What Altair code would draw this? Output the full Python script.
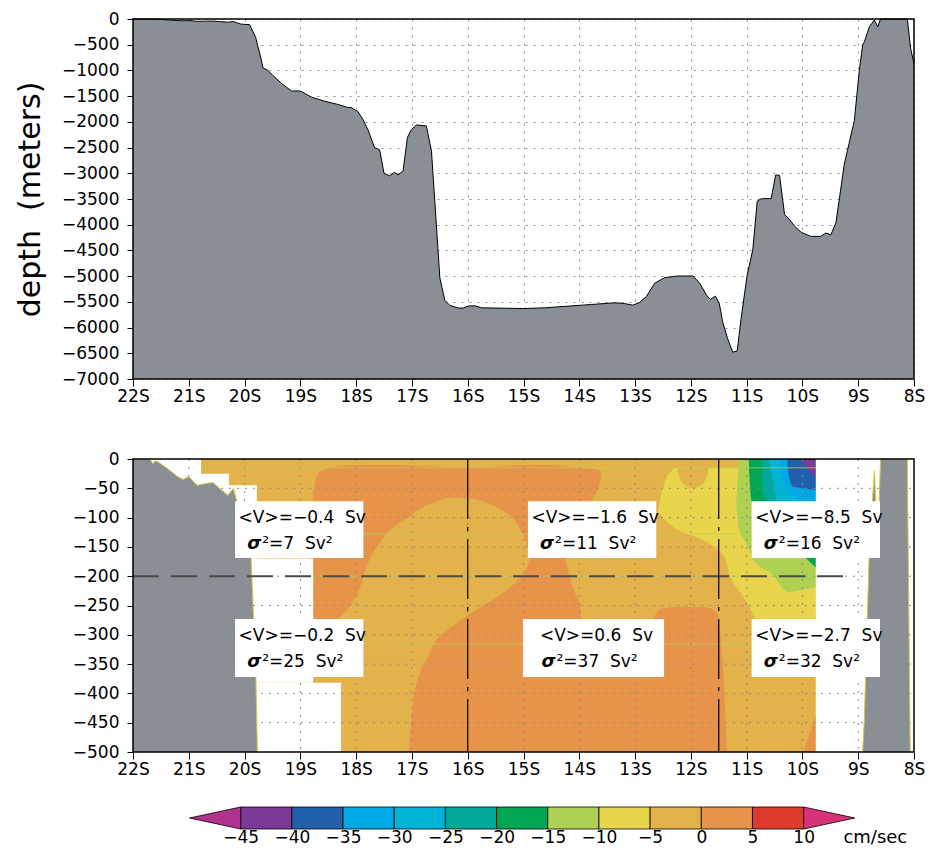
import altair as alt
import pandas as pd

# ---------------- bathymetry along the section (lat: south negative, depth in m) ----------------
BATHY_LAT = [-22.0, -21.7, -21.64, -21.6, -21.55, -21.4, -21.2, -21.1, -21.0, -20.85, -20.7, -20.57,
             -20.45, -20.3, -20.2, -20.15, -20.06, -19.91, -19.85, -19.80, -19.77, -19.72, -19.67,
             -19.58, -19.49, -19.34, -19.16, -19.0, -18.80, -18.56, -18.33, -18.15, -18.09, -17.97,
             -17.88, -17.79, -17.67, -17.58, -17.50, -17.40, -17.31, -17.25, -17.16, -17.08, -17.01,
             -16.92, -16.74, -16.65, -16.59, -16.50, -16.41, -16.32, -16.17, -16.08, -15.99, -15.87,
             -15.75, -15.0, -14.62, -13.78, -13.36, -13.19, -13.04, -12.92, -12.80, -12.65, -12.47,
             -12.23, -11.96, -11.84, -11.72, -11.65, -11.56, -11.49, -11.43, -11.34, -11.25, -11.17,
             -11.10, -10.99, -10.89, -10.81, -10.74, -10.56, -10.48, -10.41, -10.32, -10.23, -10.14,
             -10.02, -9.85, -9.67, -9.58, -9.49, -9.40, -9.25, -9.07, -8.98, -8.92, -8.89, -8.80,
             -8.71, -8.65, -8.60, -8.12, -8.06, -8.0]
BATHY_DEPTH = [0, 0, -8, -3, -5, -15, -30, -35, -30, -45, -42, -40,
               -50, -62, -50, -68, -100, -110, -245, -360, -500, -700, -950,
               -1000, -1100, -1250, -1400, -1400, -1520, -1600, -1660, -1720, -1720, -1800,
               -1950, -2150, -2500, -2540, -3000, -3050, -2980, -3030, -2960, -2300, -2150,
               -2060, -2080, -2570, -3540, -5030, -5470, -5570, -5620, -5620, -5580, -5577,
               -5616, -5630, -5616, -5551, -5518, -5532, -5564, -5512, -5401, -5140, -5029,
               -4997, -4997, -5140, -5368, -5453, -5388, -5532, -5890, -6217, -6477, -6458,
               -5825, -4977, -4488, -3542, -3496, -3490, -3033, -3040, -3803, -3901, -4031,
               -4149, -4227, -4227, -4162, -4194, -3966, -2825, -1977, -998, -500, -444, -150,
               -20, -150, 0, 0, -574, -868]

LAT_TICKS = list(range(-22, -7))
TOP_DEPTH_TICKS = list(range(-7000, 1, 500))
BOT_DEPTH_TICKS = list(range(-500, 1, 50))
TOP_DOMAIN = [-7000, 0]
BOT_DOMAIN = [-500, 0]
LAT_DOMAIN = [-22, -8]

# ---------------- velocity section: filled contour bands (cm/s), boundaries ----------------
FIELD_LAT = [-20.78, -9.76]          # gridded section extent
FIELD_DEPTH = [0, -500]
# regions without data (lat0, lat1, top, bottom)
NODATA_LAT0 = [-22, -22, -22, -22, -22, -9.76]
NODATA_LAT1 = [-20.78, -20.28, -19.78, -18.77, -18.27, -8]
NODATA_TOP = [0, -25, -45, -170, -382, 0]
NODATA_BOT = [-25, -45, -170, -382, -500, -500]

# v >= 0 (0..5 band)
OR_LAT = [-18.77, -18.68, -18.41, -17.80, -16.62, -16.01, -15.42, -14.83, -14.22, -13.63, -13.56, -11.35]
OR_TOP = [-60, -24, -14, -10, -13, -15, -13, -10, -13, -19, -27, -27]
OR_BOT = [-500, -500, -500, -500, -500, -500, -500, -500, -500, -500, -500, -500]
# -5..0 tongue running from the dome to the bottom-left
DOME_LAT = [-18.77, -18.29, -18.11, -17.93, -17.80, -17.57, -17.21, -17.07, -16.98, -16.85, -16.72,
            -16.62, -16.32, -15.90, -15.72, -15.42, -15.19, -15.06, -14.94, -14.88]
DOME_TOP = [-309, -271, -250, -220, -181, -142, -108, -100, -92, -85, -78,
            -75, -66, -68, -73, -85, -101, -120, -145, -169]
DOME_BOT = [-500, -500, -500, -500, -500, -500, -500, -500, -415, -363, -340,
            -318, -289, -261, -250, -232, -215, -203, -185, -169]
# -5..0 region in the east
TONGUE_LAT = [-14.25, -14.16, -14.08, -13.99, -13.95, -13.75, -13.63, -13.56, -13.27, -12.82, -12.55,
              -12.19, -11.74, -11.53, -11.48, -11.44, -11.40, -11.35, -9.76]
TONGUE_TOP = [-167, -155, -140, -125, -118, -67, -40, 0, 0, 0, 0, 0, 0, 0, 0, 0, 0, 0, 0]
TONGUE_BOT = [-171, -205, -228, -250, -272, -288, -296, -300, -303, -295, -256,
              -252, -253, -262, -288, -334, -400, -500, -500]
# small v >= 0 patch at the eastern bottom
OR2_LAT = [-9.99, -9.87, -9.76]
OR2_TOP = [-500, -470, -437]
OR2_BOT = [-500, -500, -500]
# v <= -5
YE_LAT = [-12.59, -12.55, -12.50, -12.43, -12.34, -12.29, -12.14, -11.71, -11.39, -11.30, -11.08,
          -10.94, -10.85, -10.40, -9.76]
YE_TOP = [-90, -68, -51, -30, -20, -15, -15, -15, -15, -15, -15, -15, -15, -15, -15]
YE_BOT = [-90, -95, -101, -108, -114, -118, -125, -142, -169, -198, -232, -254, -271, -285, -300]
# -5..0 bump inside the v <= -5 band
BUMP_LAT = [-12.23, -12.14, -11.96, -11.78, -11.69]
BUMP_TOP = [-15, -15, -15, -15, -15]
BUMP_BOT = [-22, -42, -50, -42, -22]
# v <= -10
LG_LAT = [-11.19, -11.17, -11.12, -11.06, -10.94, -10.91, -10.53, -10.26, -10.04, -9.76]
LG_TOP = [-73, -50, 0, 0, 0, 0, 0, 0, 0, 0]
LG_BOT = [-73, -95, -125, -136, -159, -169, -198, -227, -224, -218]
# v <= -15
GR_LAT = [-10.96, -10.93, -10.90, -10.76, -10.40, -9.95, -9.76]
GR_TOP = [0, 0, 0, 0, 0, 0, 0]
GR_BOT = [-10, -60, -75, -88, -125, -168, -185]
# v <= -20
TE_LAT = [-10.73, -10.71, -10.58, -10.22, -9.76]
TE_TOP = [0, 0, 0, 0, 0]
TE_BOT = [-10, -60, -75, -110, -150]
# v <= -25
CY_LAT = [-10.59, -10.53, -10.44, -10.04, -9.76]
CY_TOP = [0, 0, 0, 0, 0]
CY_BOT = [-5, -35, -75, -95, -115]
# v <= -30
LB_LAT = [-10.43, -10.37, -10.28, -10.04, -9.76]
LB_TOP = [0, 0, 0, 0, 0]
LB_BOT = [-5, -27, -48, -70, -80]
# v <= -35
BL_LAT = [-10.27, -10.24, -10.17, -9.99, -9.76]
BL_TOP = [0, 0, 0, 0, 0]
BL_BOT = [-8, -30, -47, -50, -53]
# v <= -40
PU_LAT = [-10.01, -9.95, -9.86, -9.76]
PU_TOP = [0, 0, 0, 0]
PU_BOT = [-3, -12, -22, -30]

# faint seams of the contouring at these depths
SEAM_DEPTH = [-15, -128, -200, -316]

# reference lines
HLINE_DEPTH = [-200]
HLINE_LAT = [-22, -9.14]
VLINE_LAT = [-16, -11.5]

# transport annotations
BOX_LAT0 = [-20.17, -20.17, -14.92, -15.01, -10.91, -10.91]
BOX_LAT1 = [-17.87, -17.87, -12.62, -12.48, -8.61, -8.61]
BOX_TOP = [-72, -273, -72, -273, -72, -273]
BOX_BOT = [-169, -372, -169, -372, -169, -372]
MEAN_V = ["\u22120.4", "\u22120.2", "\u22121.6", "0.6", "\u22128.5", "\u22122.7"]
VAR_V = ["7", "25", "11", "37", "16", "32"]

# colour bar
CB_LOW = [-45, -40, -35, -30, -25, -20, -15, -10, -5, 0, 5]
CB_COLORS = ["#7b3a96", "#2360ac", "#00a8e6", "#00b4d8", "#00a99a", "#00a651",
             "#afd152", "#e8d54c", "#e3b24a", "#e8934a", "#e03a2b"]
CB_TICKS = [-45, -40, -35, -30, -25, -20, -15, -10, -5, 0, 5, 10]
CB_UNITS = "cm/sec"

# ---------------- styles ----------------
FONT = "DejaVu Sans"
SP2 = "\u00a0 "     # a visible double space
LAND = "#898f95"
C_LO, C_OR, C_YE, C_LG = "#e3b24a", "#e8934a", "#e8d54c", "#afd152"
C_GR, C_TE, C_CY, C_LB, C_BL, C_PU = "#00a651", "#00a99a", "#00b4d8", "#00a8e6", "#2360ac", "#7b3a96"
TRI_L, TRI_R = "#b0338f", "#d6337b"
W = 781

XS = alt.Scale(domain=LAT_DOMAIN, nice=False, zero=False)
lat_label = "abs(datum.value) + 'S'"


def xaxis(grid):
    return alt.Axis(values=LAT_TICKS, labelExpr=lat_label, title=None, grid=grid,
                    gridDash=[2, 6], gridColor="#8a8a8a", gridWidth=1, labelFlush=False,
                    tickSize=7, labelPadding=2, domain=False, labelFontSize=17)


# ---------------- top panel ----------------
TYS = alt.Scale(domain=TOP_DOMAIN, nice=False, zero=False)
TOP_X = xaxis(True)
TOP_Y = alt.Axis(values=TOP_DEPTH_TICKS, format="d", title="depth" + SP2 + "(meters)", titleFontSize=30,
                 titleFontWeight="normal", titlePadding=16, grid=True, gridDash=[2, 6],
                 gridColor="#8a8a8a", gridWidth=1, tickSize=6, labelPadding=8, domain=False,
                 labelFontSize=17, labelFlush=False)

bathy = pd.DataFrame({"lat": BATHY_LAT, "depth": BATHY_DEPTH})
bathy["floor"] = TOP_DOMAIN[0]

tx = alt.X("lat:Q", scale=XS, axis=TOP_X)
top_area = alt.Chart(bathy).mark_area(color=LAND).encode(
    x=tx, y=alt.Y("depth:Q", scale=TYS, axis=TOP_Y), y2="floor:Q")
top_line = alt.Chart(bathy).mark_line(color="black", strokeWidth=1).encode(
    x=tx, y=alt.Y("depth:Q", scale=TYS, axis=TOP_Y))
frame_top = alt.Chart(pd.DataFrame({"x0": [LAT_DOMAIN[0]], "x1": [LAT_DOMAIN[1]],
                                     "y0": [TOP_DOMAIN[0]], "y1": [TOP_DOMAIN[1]]})).mark_rect(
    fill="transparent", stroke="black", strokeWidth=1.5).encode(
    x=alt.X("x0:Q", scale=XS, axis=TOP_X), x2="x1:Q",
    y=alt.Y("y0:Q", scale=TYS, axis=TOP_Y), y2="y1:Q")
top = alt.layer(top_area, top_line, frame_top).properties(width=W, height=360)

# ---------------- bottom panel ----------------
BYS = alt.Scale(domain=BOT_DOMAIN, nice=False, zero=False)
BOT_X = xaxis(False)
BOT_Y = alt.Axis(values=BOT_DEPTH_TICKS, format="d", title=None, grid=False, tickSize=6,
                 labelPadding=8, domain=False, labelFontSize=17, labelFlush=False)


def bx(f):
    return alt.X(f + ":Q", scale=XS, axis=BOT_X)


def by(f):
    return alt.Y(f + ":Q", scale=BYS, axis=BOT_Y)


def band(lats, tops, bots, color):
    df = pd.DataFrame({"lat": lats, "top": tops, "bot": bots})
    return alt.Chart(df).mark_area(color=color, interpolate="monotone").encode(
        x=bx("lat"), y=by("top"), y2="bot:Q")


def rects(lat0, lat1, top, bot, **mk):
    df = pd.DataFrame({"a": lat0, "b": lat1, "t": top, "u": bot})
    return alt.Chart(df).mark_rect(**mk).encode(x=bx("a"), x2="b:Q", y=by("t"), y2="u:Q")


layers = []
layers.append(rects([FIELD_LAT[0]], [FIELD_LAT[1]], [FIELD_DEPTH[0]], [FIELD_DEPTH[1]], color=C_LO))
layers.append(band(OR_LAT, OR_TOP, OR_BOT, C_OR))
layers.append(band(DOME_LAT, DOME_TOP, DOME_BOT, C_LO))
layers.append(band(TONGUE_LAT, TONGUE_TOP, TONGUE_BOT, C_LO))
layers.append(band(OR2_LAT, OR2_TOP, OR2_BOT, C_OR))
layers.append(band(YE_LAT, YE_TOP, YE_BOT, C_YE))
layers.append(band(BUMP_LAT, BUMP_TOP, BUMP_BOT, C_LO))
layers.append(band(LG_LAT, LG_TOP, LG_BOT, C_LG))
layers.append(band(GR_LAT, GR_TOP, GR_BOT, C_GR))
layers.append(band(TE_LAT, TE_TOP, TE_BOT, C_TE))
layers.append(band(CY_LAT, CY_TOP, CY_BOT, C_CY))
layers.append(band(LB_LAT, LB_TOP, LB_BOT, C_LB))
layers.append(band(BL_LAT, BL_TOP, BL_BOT, C_BL))
layers.append(band(PU_LAT, PU_TOP, PU_BOT, C_PU))

seams = pd.DataFrame({"d": SEAM_DEPTH, "a": FIELD_LAT[0], "b": FIELD_LAT[1]})
layers.append(alt.Chart(seams).mark_rule(color="#b9d35c", strokeWidth=1, opacity=0.7).encode(
    x=bx("a"), x2="b:Q", y=by("d")))

layers.append(rects(NODATA_LAT0, NODATA_LAT1, NODATA_TOP, NODATA_BOT, color="white"))

# dotted grid on top of the field
vgrid = pd.DataFrame({"lat": LAT_TICKS[1:-1], "t": BOT_DOMAIN[1], "u": BOT_DOMAIN[0]})
hgrid = pd.DataFrame({"d": BOT_DEPTH_TICKS[1:-1], "a": LAT_DOMAIN[0], "b": LAT_DOMAIN[1]})
layers.append(alt.Chart(vgrid).mark_rule(color="#8a8a8a", strokeDash=[2, 6], strokeWidth=1).encode(
    x=bx("lat"), y=by("t"), y2="u:Q"))
layers.append(alt.Chart(hgrid).mark_rule(color="#8a8a8a", strokeDash=[2, 6], strokeWidth=1).encode(
    x=bx("a"), x2="b:Q", y=by("d")))

# land
bathy_b = pd.DataFrame({"lat": BATHY_LAT, "depth": BATHY_DEPTH})
bathy_b["floor"] = TOP_DOMAIN[0]
layers.append(alt.Chart(bathy_b).mark_area(color=LAND, clip=True).encode(
    x=bx("lat"), y=by("depth"), y2="floor:Q"))
layers.append(alt.Chart(bathy_b).mark_line(color="#d8c83a", strokeWidth=1, clip=True).encode(
    x=bx("lat"), y=by("depth")))

# dashed reference lines
hl = pd.DataFrame({"d": HLINE_DEPTH, "a": HLINE_LAT[0], "b": HLINE_LAT[1]})
layers.append(alt.Chart(hl).mark_rule(color="#4a4a4a", strokeDash=[26, 12], strokeWidth=2).encode(
    x=bx("a"), x2="b:Q", y=by("d")))
vl = pd.DataFrame({"lat": VLINE_LAT, "t": BOT_DOMAIN[1], "u": BOT_DOMAIN[0]})
layers.append(alt.Chart(vl).mark_rule(color="black", strokeDash=[60, 8, 4, 8], strokeWidth=1.2).encode(
    x=bx("lat"), y=by("t"), y2="u:Q"))

# annotation boxes
boxes = pd.DataFrame({"a": BOX_LAT0, "b": BOX_LAT1, "t": BOX_TOP, "u": BOX_BOT,
                      "m": MEAN_V, "s": VAR_V})
boxes["c"] = (boxes["a"] + boxes["b"]) / 2
boxes["d1"] = boxes["t"] + 0.30 * (boxes["u"] - boxes["t"])
boxes["d2"] = boxes["t"] + 0.75 * (boxes["u"] - boxes["t"])
boxes["l1"] = "<V>=" + boxes["m"] + SP2 + "Sv"
boxes["l2"] = "\u00b2=" + boxes["s"] + SP2 + "Sv\u00b2"
layers.append(alt.Chart(boxes).mark_rect(color="white").encode(
    x=bx("a"), x2="b:Q", y=by("t"), y2="u:Q"))
layers.append(alt.Chart(boxes).mark_text(font=FONT, fontSize=17, align="center", baseline="middle",
                                         dx=3, color="black").encode(
    x=bx("c"), y=by("d1"), text="l1:N"))
layers.append(alt.Chart(boxes).mark_text(font=FONT, fontSize=18, align="right", baseline="middle",
                                         dx=-38, fontStyle="italic", fontWeight="bold",
                                         text="\u03c3", color="black").encode(
    x=bx("c"), y=by("d2")))
layers.append(alt.Chart(boxes).mark_text(font=FONT, fontSize=17, align="left", baseline="middle",
                                         dx=-37, color="black").encode(
    x=bx("c"), y=by("d2"), text="l2:N"))

frame_bot = pd.DataFrame({"x0": [LAT_DOMAIN[0]], "x1": [LAT_DOMAIN[1]],
                          "y0": [BOT_DOMAIN[0]], "y1": [BOT_DOMAIN[1]]})
layers.append(alt.Chart(frame_bot).mark_rect(fill="transparent", stroke="black", strokeWidth=1.5).encode(
    x=bx("x0"), x2="x1:Q", y=by("y0"), y2="y1:Q"))

bottom = alt.layer(*layers).properties(
    width=W, height=293, title=alt.TitleParams(" ", fontSize=14, offset=4))

# ---------------- colour bar ----------------
CBX = alt.Scale(domain=[-55.52, 20.78], nice=False, zero=False)
CBY = alt.Scale(domain=[0, 1], nice=False, zero=False)
CB_AX = alt.Axis(values=CB_TICKS, format="d", title=None, ticks=False, domain=False, grid=False,
                 labelFontSize=17, labelPadding=0, labelFlush=False)

cb = pd.DataFrame({"lo": CB_LOW, "hi": [v + 5 for v in CB_LOW], "k": [str(v) for v in CB_LOW]})
cb["y0"] = 0
cb["y1"] = 1
cb_rect = alt.Chart(cb).mark_rect(stroke="black", strokeWidth=0.8).encode(
    x=alt.X("lo:Q", scale=CBX, axis=CB_AX), x2="hi:Q",
    y=alt.Y("y0:Q", scale=CBY, axis=None), y2="y1:Q",
    color=alt.Color("k:N", scale=alt.Scale(domain=[str(v) for v in CB_LOW], range=CB_COLORS),
                    legend=None))
tri_l = pd.DataFrame({"x": [CB_LOW[0] - 5, CB_LOW[0]], "y": [0.5, 1], "y2": [0.5, 0]})
tri_r = pd.DataFrame({"x": [CB_TICKS[-1], CB_TICKS[-1] + 5], "y": [1, 0.5], "y2": [0, 0.5]})
cb_tl = alt.Chart(tri_l).mark_area(color=TRI_L, stroke="black", strokeWidth=0.8).encode(
    x=alt.X("x:Q", scale=CBX, axis=CB_AX), y=alt.Y("y:Q", scale=CBY, axis=None), y2="y2:Q")
cb_tr = alt.Chart(tri_r).mark_area(color=TRI_R, stroke="black", strokeWidth=0.8).encode(
    x=alt.X("x:Q", scale=CBX, axis=CB_AX), y=alt.Y("y:Q", scale=CBY, axis=None), y2="y2:Q")
cb_unit = alt.Chart(pd.DataFrame({"x": [17.0], "y": [-0.42], "t": [CB_UNITS]})).mark_text(
    font=FONT, fontSize=18, align="center", baseline="middle", color="black").encode(
    x=alt.X("x:Q", scale=CBX, axis=CB_AX), y=alt.Y("y:Q", scale=CBY, axis=None), text="t:N")
cbar = alt.layer(cb_rect, cb_tl, cb_tr, cb_unit).properties(width=W, height=22)

chart = alt.vconcat(top, bottom, cbar, spacing=28).properties(
    padding={"left": 7, "top": 2, "right": 5, "bottom": 0}
).configure_axis(
    labelFont=FONT, titleFont=FONT, labelColor="black", titleColor="black", tickColor="black"
).configure_view(strokeWidth=0).configure_text(font=FONT)

chart.save("out.html", embed_options={"renderer": "svg", "actions": False})
